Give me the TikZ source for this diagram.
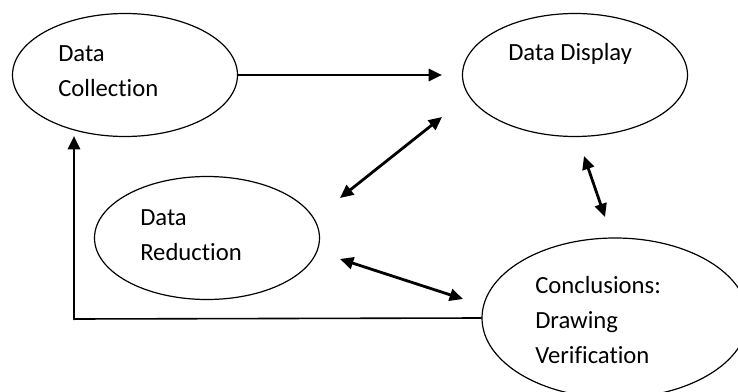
\documentclass[tikz,border=0pt]{standalone}
\usepackage{fontspec}
\setmainfont{Carlito}[Ligatures={NoCommon}]
\usetikzlibrary{arrows.meta,shapes.geometric}

\begin{document}
\begin{tikzpicture}
	[x=0.75pt,y=-0.75pt,line cap=round,line join=round,>={Triangle[length=10pt,width=9pt]},
	blob/.style={ellipse,draw,line width=0.9pt,inner sep=0pt},
	lbl/.style={anchor=base west,align=left,inner sep=0pt,font=\fontsize{18.5}{26.25}\selectfont},
	link/.style={line width=2.1pt}]
	\useasboundingbox (0,0) rectangle (738,392);
	\clip (0,0) rectangle (738,392);
	% ellipses
	\node [blob,minimum width=168.75pt,minimum height=92.25pt] (coll) at (125,75) {};
	\node [blob,minimum width=168.75pt,minimum height=92.25pt] (disp) at (575,75) {};
	\node [blob,minimum width=168.75pt,minimum height=92.25pt] (redu) at (207,238) {};
	\node [blob,minimum width=199.5pt,minimum height=120pt] (concl) at (615,318) {};
	% texts (anchored at the last baseline)
	\node [lbl] (colltext) at (58,97) {Data\\Collection};
	\node [lbl] (disptext) at (508,61) {Data Display};
	\node [lbl] (redutext) at (140,260) {Data\\Reduction};
	\node [lbl] (concltext) at (535,363) {Conclusions:\\Drawing\\Verification};
	% arrow ends
	\coordinate (dispin) at (442,75);
	\coordinate (dispsw) at (442,117);
	\coordinate (redune) at (340,198);
	\coordinate (dispso) at (584,156);
	\coordinate (conclno) at (605,217);
	\coordinate (reduea) at (340,259);
	\coordinate (conclwe) at (463,299);
	\coordinate (fbk) at (74,319);
	\coordinate (colltip) at (74,136);
	% arrows
	\draw [link,->] (coll.east) -- (dispin);
	\draw [link,<->] (redune) -- (dispsw);
	\draw [link,<->] (dispso) -- (conclno);
	\draw [link,<->] (reduea) -- (conclwe);
	\draw [line width=1.2pt] (concl.west) -- (fbk);
	\draw [link,->] (fbk) -- (colltip);
\end{tikzpicture}
\end{document}
